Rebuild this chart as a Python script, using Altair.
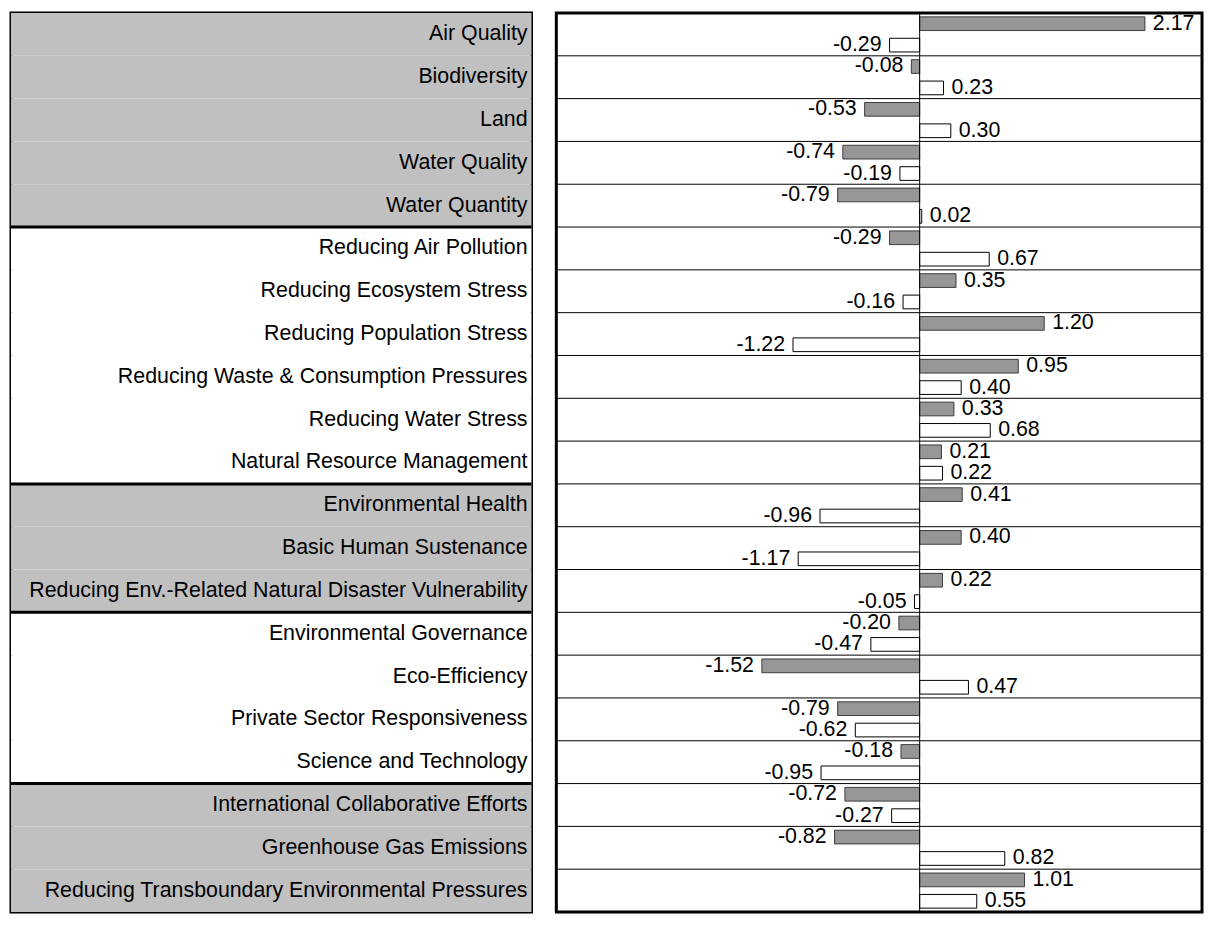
import altair as alt
import pandas as pd

categories = [
    "Air Quality", "Biodiversity", "Land", "Water Quality", "Water Quantity",
    "Reducing Air Pollution", "Reducing Ecosystem Stress", "Reducing Population Stress",
    "Reducing Waste & Consumption Pressures", "Reducing Water Stress",
    "Natural Resource Management", "Environmental Health", "Basic Human Sustenance",
    "Reducing Env.-Related Natural Disaster Vulnerability", "Environmental Governance",
    "Eco-Efficiency", "Private Sector Responsiveness", "Science and Technology",
    "International Collaborative Efforts", "Greenhouse Gas Emissions",
    "Reducing Transboundary Environmental Pressures",
]
group_ids = [1, 1, 1, 1, 1, 2, 2, 2, 2, 2, 2, 3, 3, 3, 4, 4, 4, 4, 5, 5, 5]
series_1 = [2.17, -0.08, -0.53, -0.74, -0.79, -0.29, 0.35, 1.20, 0.95, 0.33, 0.21,
            0.41, 0.40, 0.22, -0.20, -1.52, -0.79, -0.18, -0.72, -0.82, 1.01]
series_2 = [-0.29, 0.23, 0.30, -0.19, 0.02, 0.67, -0.16, -1.22, 0.40, 0.68, 0.22,
            -0.96, -1.17, -0.05, -0.47, 0.47, -0.62, -0.95, -0.27, 0.82, 0.55]
series_names = ["s1", "s2"]

FONT = "Liberation Sans"
FS = 21.5
H = 905
LW = 524
RW = 650
X_MIN, X_MAX = -3.5, 2.72

rows = []
for c, a, b in zip(categories, series_1, series_2):
    rows.append({"cat": c, "series": series_names[0], "value": a})
    rows.append({"cat": c, "series": series_names[1], "value": b})
bars_df = pd.DataFrame(rows)

label_df = pd.DataFrame({"cat": categories, "group": group_ids})
label_df["shade"] = ["grey" if g % 2 == 1 else "white" for g in group_ids]
boundary_df = label_df[label_df["group"].ne(label_df["group"].shift())].iloc[1:]

yscale = alt.Scale(domain=categories, paddingInner=0, paddingOuter=0)
y_left = alt.Y("cat:N", scale=yscale, axis=None)
y_edge = alt.Y("cat:N", scale=yscale, axis=None, bandPosition=0)

left_bg = alt.Chart(label_df).mark_rect().encode(
    y=y_left,
    x=alt.value(0),
    x2=alt.value(LW),
    color=alt.Color("shade:N", scale=alt.Scale(domain=["grey", "white"], range=["#c0c0c0", "#ffffff"]), legend=None),
)
left_sep = alt.Chart(boundary_df).mark_rule(color="black", strokeWidth=3).encode(
    y=y_edge, x=alt.value(0), x2=alt.value(LW),
)
left_text = alt.Chart(label_df).mark_text(
    align="right", baseline="middle", font=FONT, fontSize=FS, color="black"
).encode(y=y_left, x=alt.value(LW - 4), text="cat:N")
left = alt.layer(left_bg, left_sep, left_text).properties(width=LW, height=H)

y_right = alt.Y("cat:N", scale=yscale, axis=None)
y_off = alt.YOffset("series:N", sort=series_names,
                    scale=alt.Scale(paddingInner=0.36, paddingOuter=0.18))
x_scale = alt.Scale(domain=[X_MIN, X_MAX], nice=False)
x_enc = alt.X("value:Q", scale=x_scale, axis=None)

grid = alt.Chart(label_df).mark_rule(color="black", strokeWidth=1).encode(
    y=y_edge, x=alt.value(0), x2=alt.value(RW),
)
bars = alt.Chart(bars_df).mark_bar(strokeWidth=1, opacity=1, fillOpacity=1).encode(
    y=y_right,
    yOffset=y_off,
    x=x_enc,
    fill=alt.Fill("series:N", scale=alt.Scale(domain=series_names, range=["#969696", "#ffffff"]), legend=None),
    stroke=alt.Stroke("series:N", scale=alt.Scale(domain=series_names, range=["#3c3c3c", "#000000"]), legend=None),
)
label_expr = "replace(format(datum.value, '.2f'), '\u2212', '-')"
pos_text = alt.Chart(bars_df).transform_filter("datum.value >= 0").transform_calculate(
    label=label_expr
).mark_text(
    align="left", baseline="middle", dx=8, font=FONT, fontSize=FS, color="black"
).encode(y=y_right, yOffset=y_off, x=x_enc, text="label:N")
neg_text = alt.Chart(bars_df).transform_filter("datum.value < 0").transform_calculate(
    label=label_expr
).mark_text(
    align="right", baseline="middle", dx=-8, font=FONT, fontSize=FS, color="black"
).encode(y=y_right, yOffset=y_off, x=x_enc, text="label:N")
zero_rule = alt.Chart(pd.DataFrame({"v": [0]})).mark_rule(color="black", strokeWidth=1).encode(
    x=alt.X("v:Q", scale=x_scale, axis=None)
)

right = alt.layer(grid, bars, zero_rule, pos_text, neg_text).properties(width=RW, height=H)

chart = alt.hconcat(left, right, spacing=20).resolve_scale(
    color="independent", fill="independent", stroke="independent"
).properties(
    padding={"left": 0, "top": 0, "right": 0, "bottom": 0}
).configure_view(stroke="black", strokeWidth=3)

chart.save("out.html", embed_options={"renderer": "svg", "actions": False})
